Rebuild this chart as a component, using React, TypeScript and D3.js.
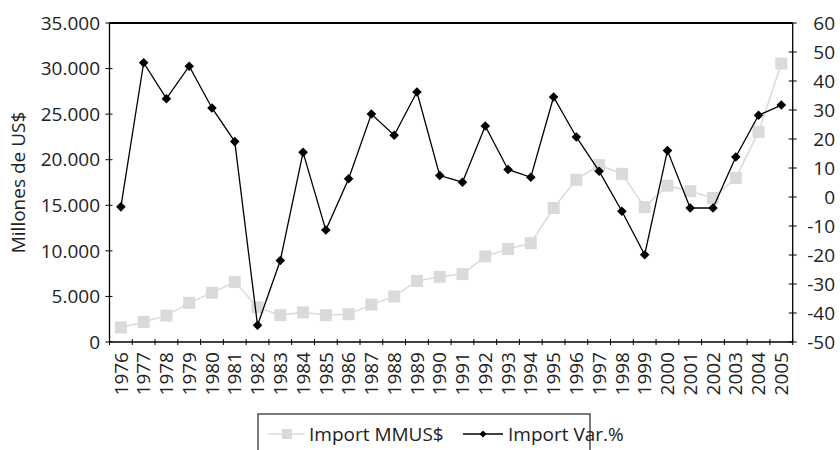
import React from "react";
import * as d3 from "d3";

const years = [
  "1976","1977","1978","1979","1980","1981","1982","1983","1984","1985",
  "1986","1987","1988","1989","1990","1991","1992","1993","1994","1995",
  "1996","1997","1998","1999","2000","2001","2002","2003","2004","2005",
];
const importMM = [
  1600, 2200, 2900, 4300, 5400, 6600, 3800, 2950, 3250, 2950,
  3050, 4100, 5000, 6700, 7150, 7450, 9400, 10200, 10850, 14700,
  17800, 19400, 18450, 14800, 17150, 16550, 15800, 18000, 23050, 30550,
];
const importVar = [
  -3.4, 46.3, 33.9, 45.1, 30.7, 19.1, -44.2, -21.9, 15.4, -11.4,
  6.3, 28.6, 21.3, 36.2, 7.4, 5.1, 24.5, 9.5, 6.8, 34.5,
  20.7, 8.9, -4.9, -19.9, 16.0, -3.8, -3.8, 13.8, 28.2, 31.7,
];
const leftTicks = [0, 5000, 10000, 15000, 20000, 25000, 30000, 35000];
const rightTicks = [-50, -40, -30, -20, -10, 0, 10, 20, 30, 40, 50, 60];
const seriesNames = ["Import MMUS$", "Import Var.%"];

const W = 840, H = 450;
const L = 109.5, R = 792.7, T = 23, B = 342;
const FONT = "'Open Sans', sans-serif";
const GREY = "#d9dad9";

const loc = d3.formatLocale({ thousands: ".", decimal: ",", grouping: [3], currency: ["$", ""] });
const fmtL = loc.format(",d");

export default function App() {
  const x = d3.scaleBand<string>().domain(years).range([L, R]);
  const cx = (y: string) => (x(y) as number) + x.bandwidth() / 2;
  const yL = d3.scaleLinear().domain([0, 35000]).range([B, T]);
  const yR = d3.scaleLinear().domain([-50, 60]).range([B, T]);

  const lineL = d3.line<number>().x((_, i) => cx(years[i])).y((d) => yL(d));
  const lineR = d3.line<number>().x((_, i) => cx(years[i])).y((d) => yR(d));
  const dia = (px: number, py: number, r: number) =>
    `M${px},${py - r}L${px + r},${py}L${px},${py + r}L${px - r},${py}Z`;

  const xTicks = years.map((y) => x(y) as number).concat([R]);

  return (
    <svg width={W} height={H} style={{ position: "absolute", left: 0, top: 0, background: "#fff" }} fontFamily={FONT}>
      {/* series */}
      <path d={lineL(importMM) || ""} fill="none" stroke={GREY} strokeWidth={1.5} />
      {importMM.map((v, i) => (
        <rect key={"s" + i} x={cx(years[i]) - 6} y={yL(v) - 6} width={12} height={12} fill={GREY} />
      ))}
      <path d={lineR(importVar) || ""} fill="none" stroke="#000" strokeWidth={1.3} />
      {importVar.map((v, i) => (
        <path key={"d" + i} d={dia(cx(years[i]), yR(v), 4.8)} fill="#000" />
      ))}

      {/* frame */}
      <line x1={L} x2={R} y1={T} y2={T} stroke="#000" strokeWidth={2} />
      <line x1={L} x2={L} y1={T} y2={B} stroke="#000" strokeWidth={1.3} />
      <line x1={R} x2={R} y1={T} y2={B} stroke="#000" strokeWidth={1.3} />
      <line x1={L} x2={R} y1={B} y2={B} stroke="#000" strokeWidth={1.3} />

      {/* left axis */}
      {leftTicks.map((t) => (
        <g key={"l" + t}>
          <line x1={L - 4} x2={L + 3} y1={yL(t)} y2={yL(t)} stroke="#000" strokeWidth={1} />
          <text x={100} y={yL(t)} dy="0.35em" textAnchor="end" fontSize={19} fill="#222">{fmtL(t)}</text>
        </g>
      ))}
      {/* right axis */}
      {rightTicks.map((t) => (
        <g key={"r" + t}>
          <line x1={R - 4} x2={R + 4} y1={yR(t)} y2={yR(t)} stroke="#000" strokeWidth={1} />
          <text x={835} y={yR(t)} dy="0.35em" textAnchor="end" fontSize={19} fill="#222">{t}</text>
        </g>
      ))}
      {/* x axis */}
      {xTicks.map((px, i) => (
        <line key={"x" + i} x1={px} x2={px} y1={B - 3} y2={B + 3} stroke="#000" strokeWidth={1} />
      ))}
      {years.map((y) => (
        <text key={"t" + y} transform={`translate(${cx(y)},${352}) rotate(-90)`} dy="0.35em" textAnchor="end" fontSize={19} fill="#222">{y}</text>
      ))}

      {/* y title */}
      <text transform={`translate(18,${(T + B) / 2}) rotate(-90)`} dy="0.35em" textAnchor="middle" fontSize={19} fill="#222">Millones de US$</text>

      {/* legend */}
      <rect x={258} y={414} width={332} height={42} fill="#fff" stroke="#333" strokeWidth={1.3} />
      <line x1={268} x2={305} y1={434} y2={434} stroke={GREY} strokeWidth={1.5} />
      <rect x={282} y={429} width={10} height={10} fill={GREY} />
      <text x={309} y={434} dy="0.35em" fontSize={19} fill="#222">{seriesNames[0]}</text>
      <line x1={463} x2={503} y1={434} y2={434} stroke="#000" strokeWidth={1.3} />
      <path d={dia(483, 434, 3.5)} fill="#000" />
      <text x={508} y={434} dy="0.35em" fontSize={19} fill="#222">{seriesNames[1]}</text>
    </svg>
  );
}
